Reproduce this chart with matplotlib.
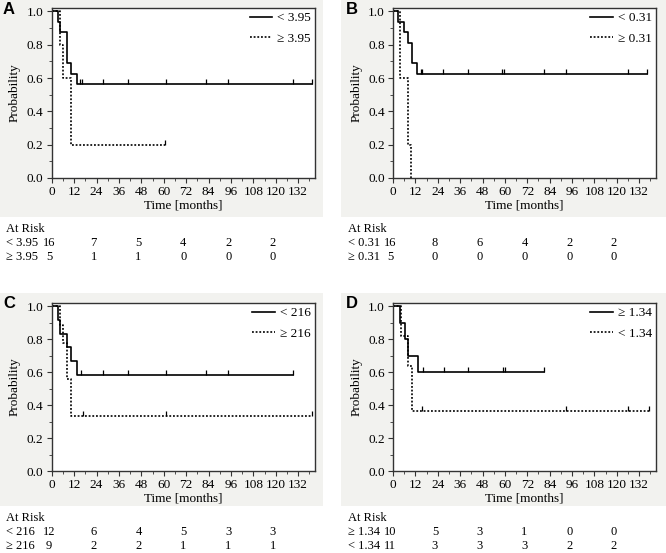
import matplotlib
matplotlib.use('Agg')
import matplotlib.pyplot as plt
import matplotlib.transforms as mtransforms
from matplotlib.patches import Rectangle
import numpy as np

plt.rcParams['font.family'] = ['Liberation Serif', 'DejaVu Serif']
plt.rcParams['font.size'] = 9

# ---- data ----
risk_times = [0, 24, 48, 72, 96, 120]

# panel A
a_labels = ['< 3.95', '\u2265 3.95']
a_solid_t = [0, 3.6, 4.3, 8.4, 10.2, 13.8]
a_solid_s = [1.0, 0.9375, 0.875, 0.6875, 0.625, 0.5625]
a_solid_end = 139.5
a_solid_cens = [15.2, 16.2, 27.6, 40.7, 61, 82.4, 94.6, 129, 139.5]
a_dot_t = [0, 4.3, 6.3, 10.6]
a_dot_s = [1.0, 0.8, 0.6, 0.2]
a_dot_end = 60.5
a_dot_cens = [60.5]
a_risk_1 = [16, 7, 5, 4, 2, 2]
a_risk_2 = [5, 1, 1, 0, 0, 0]

# panel B
b_labels = ['< 0.31', '\u2265 0.31']
b_solid_t = [0, 2.6, 5.8, 7.9, 10.0, 12.8]
b_solid_s = [1.0, 0.9375, 0.875, 0.8125, 0.6875, 0.625]
b_solid_end = 136.4
b_solid_cens = [15, 15.8, 26.9, 40, 58.6, 59.5, 81, 92.8, 126, 136.4]
b_dot_t = [0, 3.5, 7.9, 9.7]
b_dot_s = [1.0, 0.6, 0.2, 0.0]
b_dot_end = 9.7
b_dot_cens = []
b_risk_1 = [16, 8, 6, 4, 2, 2]
b_risk_2 = [5, 0, 0, 0, 0, 0]

# panel C
c_labels = ['< 216', '\u2265 216']
c_solid_t = [0, 3.4, 4.3, 8.4, 10.4, 13.5]
c_solid_s = [1.0, 0.917, 0.833, 0.75, 0.667, 0.583]
c_solid_end = 129.3
c_solid_cens = [15.6, 27.7, 40.8, 61, 82.4, 94.6, 129.3]
c_dot_t = [0, 4.3, 6.2, 8.4, 10.6]
c_dot_s = [1.0, 0.889, 0.778, 0.556, 0.333]
c_dot_end = 139.5
c_dot_cens = [16.5, 61, 139.5]
c_risk_1 = [12, 6, 4, 5, 3, 3]
c_risk_2 = [9, 2, 2, 1, 1, 1]

# panel D
d_labels = ['\u2265 1.34', '< 1.34']
d_solid_t = [0, 3.5, 6.2, 8.3, 13.2]
d_solid_s = [1.0, 0.9, 0.8, 0.7, 0.6]
d_solid_end = 81
d_solid_cens = [16.3, 27.3, 40.1, 59.1, 59.8, 81]
d_dot_t = [0, 4.3, 8.0, 10.3]
d_dot_s = [1.0, 0.818, 0.636, 0.364]
d_dot_end = 137
d_dot_cens = [15.3, 93, 126, 137]
d_risk_1 = [10, 5, 3, 1, 0, 0]
d_risk_2 = [11, 3, 3, 3, 2, 2]

W, H = 666, 553
fig = plt.figure(figsize=(W / 100, H / 100), dpi=100)
fig.patch.set_facecolor('white')

def fx(px):
    return px / W

def fy(py):
    return 1 - py / H

# letter, gray box (x0, x1, y0, y1), axes box (left, right, top, bottom) in pixels
panels = [
    ('A', (0, 323, 0, 217), (51.7, 315, 8, 178),
     a_labels, (a_solid_t, a_solid_s, a_solid_end, a_solid_cens),
     (a_dot_t, a_dot_s, a_dot_end, a_dot_cens), a_risk_1, a_risk_2),
    ('B', (341, 666, 0, 217), (393, 656, 8, 178),
     b_labels, (b_solid_t, b_solid_s, b_solid_end, b_solid_cens),
     (b_dot_t, b_dot_s, b_dot_end, b_dot_cens), b_risk_1, b_risk_2),
    ('C', (0, 323, 293, 506), (51.7, 315, 303, 471),
     c_labels, (c_solid_t, c_solid_s, c_solid_end, c_solid_cens),
     (c_dot_t, c_dot_s, c_dot_end, c_dot_cens), c_risk_1, c_risk_2),
    ('D', (341, 666, 293, 506), (393, 656, 303, 471),
     d_labels, (d_solid_t, d_solid_s, d_solid_end, d_solid_cens),
     (d_dot_t, d_dot_s, d_dot_end, d_dot_cens), d_risk_1, d_risk_2),
]

gray = '#f2f2ef'
frame_col = '#333333'

def draw_curve(ax, curve, ls, label):
    t, s, end, cens = curve
    tt = list(t) + [end]
    ss = list(s) + [s[-1]]
    ax.step(tt, ss, where='post', color='black', lw=1.2, ls=ls, label=label)
    if len(cens):
        idx = np.searchsorted(t, cens, side='right') - 1
        cy = np.array(s)[idx]
        ax.plot(cens, cy, ls='none', marker=2, ms=3.5, mew=0.9, color='black')

for letter, gbox, abox, labels, solid, dot, r1, r2 in panels:
    gx0, gx1, gy0, gy1 = gbox
    fig.patches.append(Rectangle((fx(gx0), fy(gy1)), fx(gx1 - gx0), (gy1 - gy0) / H,
                                 transform=fig.transFigure, facecolor=gray,
                                 edgecolor='none', zorder=-10))
    l, r, t, b = abox
    ax = fig.add_axes([fx(l), fy(b), fx(r - l), (b - t) / H])
    ax.set_facecolor('white')

    draw_curve(ax, solid, '-', labels[0])
    draw_curve(ax, dot, (0, (1.1, 1.1)), labels[1])

    ax.set_xlim(0, 141)
    ax.set_ylim(0, 1.02)
    ax.set_xticks(np.arange(0, 133, 12))
    ax.set_xticks(np.arange(0, 141, 6), minor=True)
    ax.set_yticks(np.arange(0, 1.01, 0.2))
    ax.set_yticks(np.arange(0, 1.01, 0.1), minor=True)
    ax.set_yticklabels(['%.1f' % v for v in np.arange(0, 1.01, 0.2)])
    ax.tick_params(which='major', direction='out', length=3.5, width=0.8,
                   color=frame_col, labelsize=9.5, pad=2.5)
    ax.tick_params(which='minor', direction='out', length=2, width=0.6, color=frame_col)
    for sp in ax.spines.values():
        sp.set_color(frame_col)
        sp.set_linewidth(1.0)
    ax.set_xlabel('Time [months]', fontsize=9.5, labelpad=1)
    ax.set_ylabel('Probability', fontsize=9.5, labelpad=4)

    ax.legend(loc='upper right', bbox_to_anchor=(0.985, 0.975), frameon=False,
              fontsize=9.5, handlelength=1.7, handletextpad=0.4, labelspacing=0.6,
              borderaxespad=0, borderpad=0)

    fig.text(fx(gx0 + 3 if gx0 == 0 else gx0 + 5), fy(gy0 + 10), letter,
             family=['Liberation Sans', 'DejaVu Sans'], fontweight='bold',
             fontsize=12, ha='left', va='center')

    # at-risk table below the gray box
    tx = 6 if gx0 == 0 else 348
    fig.text(fx(tx), fy(gy1 + 12), 'At Risk', fontsize=9, ha='left', va='center')
    trans = mtransforms.blended_transform_factory(ax.transData, fig.transFigure)
    for k, (lab, row) in enumerate(zip(labels, [r1, r2])):
        yy = fy(gy1 + 26 + 14 * k)
        fig.text(fx(tx), yy, lab, fontsize=9, ha='left', va='center')
        for tm, n in zip(risk_times, row):
            fig.text(tm - 1.5, yy, str(n), transform=trans, fontsize=9,
                     ha='center', va='center')

fig.savefig('out.png', dpi=100, facecolor='white')
